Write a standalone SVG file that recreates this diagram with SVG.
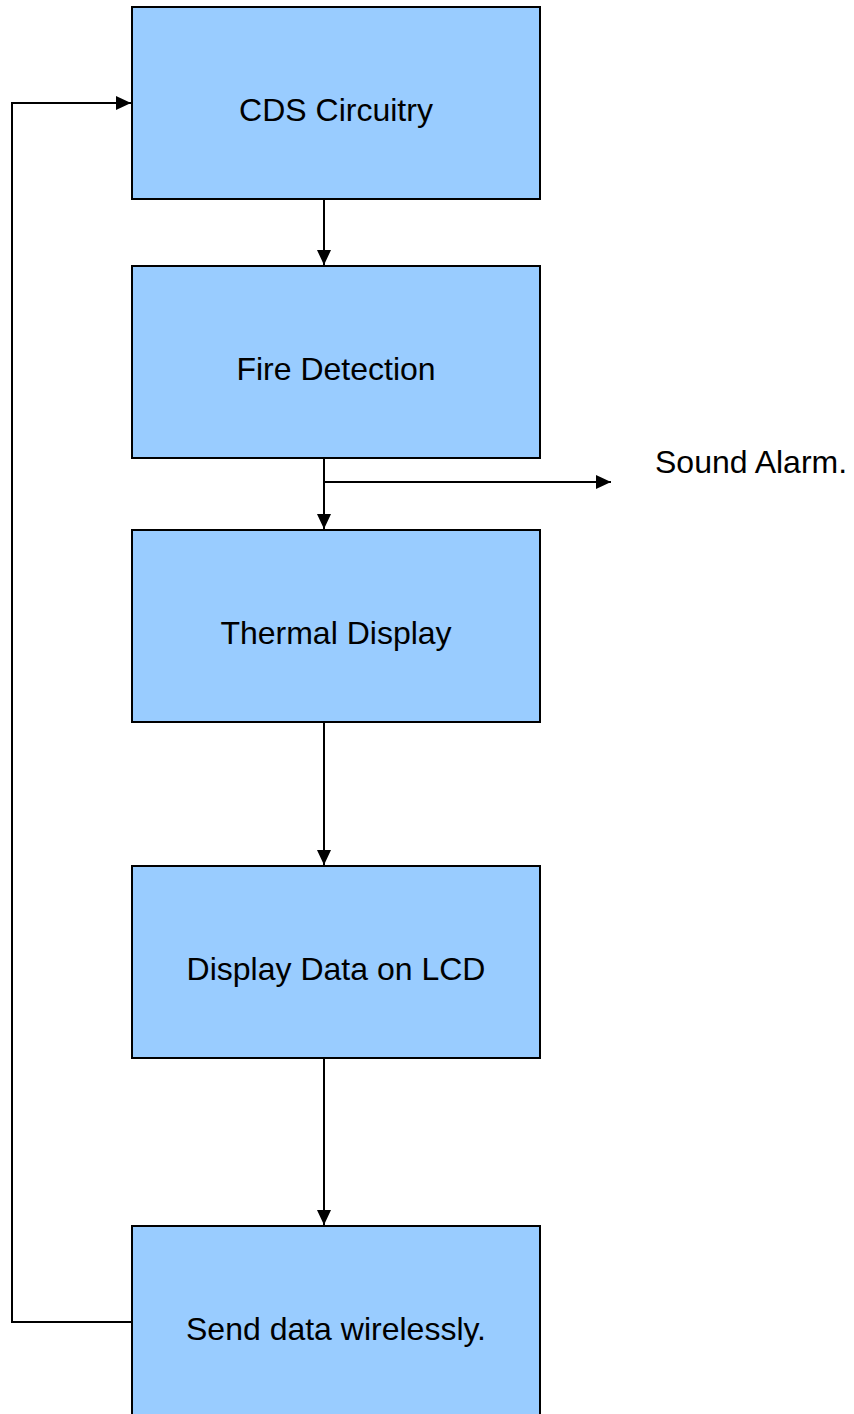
<svg xmlns="http://www.w3.org/2000/svg" width="854" height="1414" viewBox="0 0 854 1414">
<style>
.box{fill:#99CCFF;stroke:#000;stroke-width:2}
.lbl{font-family:"Liberation Sans",Arial,sans-serif;font-size:32px;fill:#000;text-anchor:middle}
.ln{fill:none;stroke:#000;stroke-width:2}
</style>
<defs>
<marker id="ah" markerUnits="userSpaceOnUse" markerWidth="16" markerHeight="16" viewBox="0 0 16 16" refX="15" refY="8" orient="auto">
<path d="M0,1 L15,8 L0,15 Z" fill="#000"/>
</marker>
</defs>
<rect width="854" height="1414" fill="#fff"/>
<g id="connectors">
<line class="ln" x1="324" y1="199" x2="324" y2="265" marker-end="url(#ah)"/>
<line class="ln" x1="324" y1="458" x2="324" y2="529" marker-end="url(#ah)"/>
<line class="ln" x1="324" y1="482" x2="611" y2="482" marker-end="url(#ah)"/>
<line class="ln" x1="324" y1="722" x2="324" y2="865" marker-end="url(#ah)"/>
<line class="ln" x1="324" y1="1058" x2="324" y2="1225" marker-end="url(#ah)"/>
<polyline class="ln" points="132,1322 12,1322 12,103 131,103" marker-end="url(#ah)"/>
</g>
<g id="n1"><rect class="box" x="132" y="7" width="408" height="192"/><text class="lbl" x="336" y="121">CDS Circuitry</text></g>
<g id="n2"><rect class="box" x="132" y="266" width="408" height="192"/><text class="lbl" x="336" y="380">Fire Detection</text></g>
<g id="n3"><rect class="box" x="132" y="530" width="408" height="192"/><text class="lbl" x="336" y="644">Thermal Display</text></g>
<g id="n4"><rect class="box" x="132" y="866" width="408" height="192"/><text class="lbl" x="336" y="980">Display Data on LCD</text></g>
<g id="n5"><rect class="box" x="132" y="1226" width="408" height="200"/><text class="lbl" x="336" y="1340">Send data wirelessly.</text></g>
<g id="alarm"><text x="655" y="473" style="font-family:'Liberation Sans',Arial,sans-serif;font-size:32px;fill:#000">Sound Alarm.</text></g>
</svg>
